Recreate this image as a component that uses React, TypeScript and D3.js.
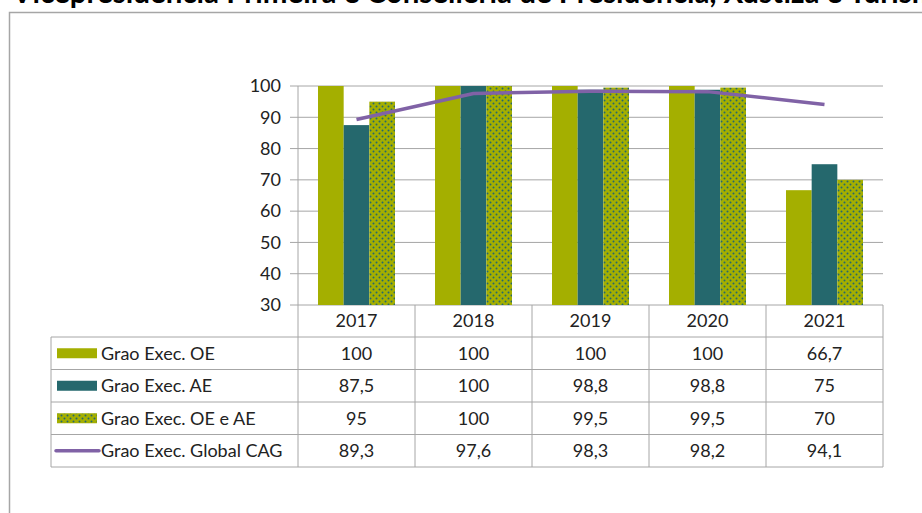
import React from "react";
import * as d3 from "d3";

const title = "Vicepresidencia Primeira e Consellería de Presidencia, Xustiza e Turismo";
const years = ["2017", "2018", "2019", "2020", "2021"];
const seriesNames = ["Grao Exec. OE", "Grao Exec. AE", "Grao Exec. OE e AE", "Grao Exec. Global CAG"];
const oe = [100, 100, 100, 100, 66.7];
const ae = [87.5, 100, 98.8, 98.8, 75];
const oeae = [95, 100, 99.5, 99.5, 70];
const globalCag = [89.3, 97.6, 98.3, 98.2, 94.1];
const yTicks = [30, 40, 50, 60, 70, 80, 90, 100];
const labelsText = [
  ["100", "100", "100", "100", "66,7"],
  ["87,5", "100", "98,8", "98,8", "75"],
  ["95", "100", "99,5", "99,5", "70"],
  ["89,3", "97,6", "98,3", "98,2", "94,1"],
];

const OLIVE = "#A4AF00";
const TEAL = "#25686D";
const PURPLE = "#8062A6";
const GRID = "#A6A6A6";
const FONT = "Lato, 'Open Sans', sans-serif";

export default function App() {
  const W = 922, H = 513;
  const left = 298, right = 883, top = 86, bottom = 305;
  const x = d3.scaleBand<string>().domain(years).range([left, right]);
  const bw = x.bandwidth();
  const inner = d3.scaleBand<number>().domain([0, 1, 2]).range([(bw - 77) / 2, (bw + 77) / 2]);
  const y = d3.scaleLinear().domain([30, 100]).range([bottom, top]);
  const barData = [oe, ae, oeae];
  const fills = [OLIVE, TEAL, "url(#dots)"];
  const line = d3.line<number>()
    .x((_, i) => (x(years[i]) as number) + bw / 2)
    .y((d) => y(d));

  const headerBottom = 337;
  const rowH = 32.5;
  const tableLeft = 51;
  const tableBottom = headerBottom + rowH * 4;
  const fs = 18;

  return (
    <svg width={W} height={H} style={{ position: "absolute", left: 0, top: 0, background: "#fff" }}>
      <defs>
        <pattern id="dots" width="6" height="6" patternUnits="userSpaceOnUse">
          <rect width="6" height="6" fill={OLIVE} />
          <circle cx="1.5" cy="1.5" r="1" fill={TEAL} />
          <circle cx="4.5" cy="4.5" r="1" fill={TEAL} />
        </pattern>
      </defs>
      <text x={12} y={2.5} fontFamily={FONT} fontWeight="bold" fontSize={29.5} fill="#000">{title}</text>
      <rect x={9.5} y={12.5} width={W + 10} height={H + 10} fill="none" stroke={GRID} strokeWidth={1.5} />

      {yTicks.map((t) => (
        <g key={t}>
          <line x1={290} x2={right} y1={y(t)} y2={y(t)} stroke={GRID} strokeWidth={1} />
          <text x={281} y={y(t)} dy="0.35em" textAnchor="end" fontFamily={FONT} fontSize={fs} fill="#222">{t}</text>
        </g>
      ))}

      {barData.map((vals, s) =>
        vals.map((v, i) => (
          <rect key={`${s}-${i}`}
            x={(x(years[i]) as number) + (inner(s) as number)}
            y={y(v)}
            width={inner.bandwidth()}
            height={y(30) - y(v)}
            fill={fills[s]} />
        ))
      )}

      <path d={line(globalCag) || ""} fill="none" stroke={PURPLE} strokeWidth={3.5} strokeLinejoin="round" />

      <line x1={left} x2={left} y1={top} y2={tableBottom} stroke={GRID} />

      {years.map((yr, i) => {
        const x0 = x(yr) as number;
        return (
          <g key={yr}>
            <line x1={x0 + bw} x2={x0 + bw} y1={bottom} y2={tableBottom} stroke={GRID} />
            <text x={x0 + bw / 2} y={(bottom + headerBottom) / 2} dy="0.35em" textAnchor="middle" fontFamily={FONT} fontSize={fs} fill="#222">{yr}</text>
          </g>
        );
      })}
      {[0, 1, 2, 3, 4].map((r) => (
        <line key={r} x1={tableLeft} x2={right} y1={headerBottom + r * rowH} y2={headerBottom + r * rowH} stroke={GRID} />
      ))}
      <line x1={tableLeft} x2={tableLeft} y1={headerBottom} y2={tableBottom} stroke={GRID} />
      {seriesNames.map((name, r) => {
        const cy = headerBottom + r * rowH + rowH / 2;
        return (
          <g key={name}>
            {r < 3 ? (
              <rect x={57} y={cy - 5} width={40} height={10} fill={fills[r]} />
            ) : (
              <line x1={56} x2={99} y1={cy} y2={cy} stroke={PURPLE} strokeWidth={3.5} strokeLinecap="round" />
            )}
            <text x={101} y={cy} dy="0.35em" fontFamily={FONT} fontSize={fs} fill="#222">{name}</text>
            {labelsText[r].map((lab, i) => (
              <text key={i} x={(x(years[i]) as number) + bw / 2} y={cy} dy="0.35em" textAnchor="middle" fontFamily={FONT} fontSize={fs} fill="#222">{lab}</text>
            ))}
          </g>
        );
      })}
    </svg>
  );
}
